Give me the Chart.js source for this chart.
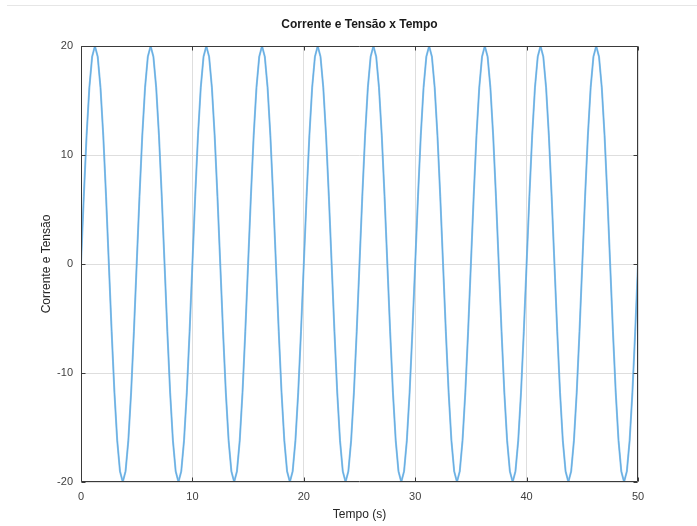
<!DOCTYPE html>
<html>
<head>
<meta charset="utf-8">
<script src="https://cdn.jsdelivr.net/npm/chart.js@4/dist/chart.umd.min.js"></script>
<style>
html,body{margin:0;padding:0;background:#fff;}
#wrap{width:697px;height:526px;position:relative;}
</style>
</head>
<body>
<div id="wrap"><canvas id="c" width="697" height="526"></canvas></div>
<script>
const chartTitle = "Corrente e Tensão x Tempo";
const xTitle = "Tempo (s)";
const yTitle = "Corrente e Tensão";
const xTicks = [0, 10, 20, 30, 40, 50];
const yTicks = [-20, -10, 0, 10, 20];

const tempo = [
 0,0.25,0.5,0.75,1,1.25,1.5,1.75,2,2.25,2.5,2.75,3,3.25,3.5,3.75,4,4.25,4.5,4.75,
 5,5.25,5.5,5.75,6,6.25,6.5,6.75,7,7.25,7.5,7.75,8,8.25,8.5,8.75,9,9.25,9.5,9.75,
 10,10.25,10.5,10.75,11,11.25,11.5,11.75,12,12.25,12.5,12.75,13,13.25,13.5,13.75,14,14.25,14.5,14.75,
 15,15.25,15.5,15.75,16,16.25,16.5,16.75,17,17.25,17.5,17.75,18,18.25,18.5,18.75,19,19.25,19.5,19.75,
 20,20.25,20.5,20.75,21,21.25,21.5,21.75,22,22.25,22.5,22.75,23,23.25,23.5,23.75,24,24.25,24.5,24.75,
 25,25.25,25.5,25.75,26,26.25,26.5,26.75,27,27.25,27.5,27.75,28,28.25,28.5,28.75,29,29.25,29.5,29.75,
 30,30.25,30.5,30.75,31,31.25,31.5,31.75,32,32.25,32.5,32.75,33,33.25,33.5,33.75,34,34.25,34.5,34.75,
 35,35.25,35.5,35.75,36,36.25,36.5,36.75,37,37.25,37.5,37.75,38,38.25,38.5,38.75,39,39.25,39.5,39.75,
 40,40.25,40.5,40.75,41,41.25,41.5,41.75,42,42.25,42.5,42.75,43,43.25,43.5,43.75,44,44.25,44.5,44.75,
 45,45.25,45.5,45.75,46,46.25,46.5,46.75,47,47.25,47.5,47.75,48,48.25,48.5,48.75,49,49.25,49.5,49.75,
 50
];

const valores = [
 0,6.18,11.76,16.18,19.02,20,19.02,16.18,11.76,6.18,0,-6.18,-11.76,-16.18,-19.02,-20,-19.02,-16.18,-11.76,-6.18,
 0,6.18,11.76,16.18,19.02,20,19.02,16.18,11.76,6.18,0,-6.18,-11.76,-16.18,-19.02,-20,-19.02,-16.18,-11.76,-6.18,
 0,6.18,11.76,16.18,19.02,20,19.02,16.18,11.76,6.18,0,-6.18,-11.76,-16.18,-19.02,-20,-19.02,-16.18,-11.76,-6.18,
 0,6.18,11.76,16.18,19.02,20,19.02,16.18,11.76,6.18,0,-6.18,-11.76,-16.18,-19.02,-20,-19.02,-16.18,-11.76,-6.18,
 0,6.18,11.76,16.18,19.02,20,19.02,16.18,11.76,6.18,0,-6.18,-11.76,-16.18,-19.02,-20,-19.02,-16.18,-11.76,-6.18,
 0,6.18,11.76,16.18,19.02,20,19.02,16.18,11.76,6.18,0,-6.18,-11.76,-16.18,-19.02,-20,-19.02,-16.18,-11.76,-6.18,
 0,6.18,11.76,16.18,19.02,20,19.02,16.18,11.76,6.18,0,-6.18,-11.76,-16.18,-19.02,-20,-19.02,-16.18,-11.76,-6.18,
 0,6.18,11.76,16.18,19.02,20,19.02,16.18,11.76,6.18,0,-6.18,-11.76,-16.18,-19.02,-20,-19.02,-16.18,-11.76,-6.18,
 0,6.18,11.76,16.18,19.02,20,19.02,16.18,11.76,6.18,0,-6.18,-11.76,-16.18,-19.02,-20,-19.02,-16.18,-11.76,-6.18,
 0,6.18,11.76,16.18,19.02,20,19.02,16.18,11.76,6.18,0,-6.18,-11.76,-16.18,-19.02,-20,-19.02,-16.18,-11.76,-6.18,
 0
];

const points = tempo.map((t, i) => ({x: t, y: valores[i]}));

const FONT = "'Liberation Sans', Arial, Helvetica, sans-serif";
const AXIS_COLOR = '#3a3a3a';

const framePlugin = {
  id: 'frame',
  beforeDraw(chart) {
    const ctx = chart.ctx;
    ctx.save();
    ctx.fillStyle = '#fff';
    ctx.fillRect(0, 0, chart.width, chart.height);
    ctx.strokeStyle = '#e6e6e6';
    ctx.lineWidth = 1;
    ctx.beginPath();
    ctx.moveTo(7, 5.5);
    ctx.lineTo(chart.width, 5.5);
    ctx.stroke();
    ctx.restore();
  },
  afterDatasetsDraw(chart) {
    const {ctx, chartArea: a, scales} = chart;
    ctx.save();
    ctx.strokeStyle = AXIS_COLOR;
    ctx.lineWidth = 1;
    const L = Math.round(a.left) + 0.5, R = Math.round(a.right) - 0.5;
    const T = Math.round(a.top) + 0.5, B = Math.round(a.bottom) - 0.5;
    ctx.beginPath();
    ctx.rect(L, T, R - L, B - T);
    ctx.stroke();
    const tl = 4;
    ctx.beginPath();
    xTicks.forEach(v => {
      const px = Math.round(scales.x.getPixelForValue(v)) + 0.5;
      ctx.moveTo(px, B); ctx.lineTo(px, B - tl);
      ctx.moveTo(px, T); ctx.lineTo(px, T + tl);
    });
    yTicks.forEach(v => {
      const py = Math.round(scales.y.getPixelForValue(v)) + 0.5;
      ctx.moveTo(L, py); ctx.lineTo(L + tl, py);
      ctx.moveTo(R, py); ctx.lineTo(R - tl, py);
    });
    ctx.stroke();
    // title centered over the plot area
    ctx.fillStyle = '#1a1a1a';
    ctx.font = "bold 12px " + FONT;
    ctx.textAlign = 'center';
    ctx.textBaseline = 'middle';
    ctx.fillText(chartTitle, (a.left + a.right) / 2, 25);
    ctx.restore();
  }
};

new Chart(document.getElementById('c'), {
  type: 'line',
  data: {
    datasets: [
      {
        label: 'Tensão',
        data: points,
        borderColor: 'rgba(105,178,230,0.75)',
        borderWidth: 2,
        pointRadius: 0,
        tension: 0,
        fill: false
      },
      {
        label: 'Corrente',
        data: points,
        borderColor: '#2a82c8',
        borderWidth: 0.8,
        pointRadius: 0,
        tension: 0,
        fill: false
      }
    ]
  },
  plugins: [framePlugin],
  options: {
    responsive: false,
    animation: false,
    devicePixelRatio: 1,
    layout: { padding: { left: 0, right: 59, top: 46, bottom: 0 } },
    plugins: {
      legend: { display: false },
      tooltip: { enabled: false },
      title: { display: false }
    },
    scales: {
      x: {
        type: 'linear',
        min: 0,
        max: 50,
        afterFit(s) { s.height = 44; },
        afterBuildTicks(s) { s.ticks = xTicks.map(v => ({value: v})); },
        grid: { color: '#dedede', lineWidth: 1, drawTicks: false },
        border: { display: false },
        ticks: {
          color: '#404040',
          padding: 8,
          maxRotation: 0,
          font: { family: FONT, size: 11 }
        },
        title: {
          display: true,
          text: xTitle,
          color: '#262626',
          font: { family: FONT, size: 12, lineHeight: 1.2 },
          padding: { top: 0, bottom: 4 }
        }
      },
      y: {
        type: 'linear',
        min: -20,
        max: 20,
        afterFit(s) { s.width = 81; },
        afterBuildTicks(s) { s.ticks = yTicks.map(v => ({value: v})); },
        grid: { color: '#dedede', lineWidth: 1, drawTicks: false },
        border: { display: false },
        ticks: {
          color: '#404040',
          padding: 8,
          font: { family: FONT, size: 11 }
        },
        title: {
          display: true,
          text: yTitle,
          color: '#262626',
          font: { family: FONT, size: 12, lineHeight: 1.2 },
          padding: { top: 39, bottom: 0 }
        }
      }
    }
  }
});
</script>
</body>
</html>
